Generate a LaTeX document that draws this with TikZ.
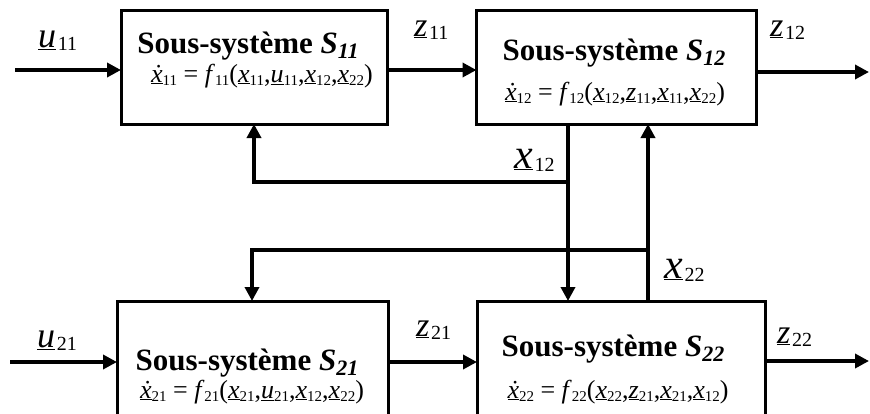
\documentclass[tikz,border=0pt]{standalone}
\usepackage{fontspec}
\setmainfont{Liberation Serif}
\usetikzlibrary{arrows.meta}
\newcommand\ulv[1]{\underline{\textit{#1}}}
\newcommand\esub[1]{\raisebox{-3pt}{\fontsize{15}{15}\selectfont #1}}
\newcommand\eqv[2]{\ulv{#1}\esub{#2}}
\newcommand\dxv[1]{\underline{\textit{\.x}}\esub{#1}}
\newcommand\labv[3]{{\fontsize{#3}{#3}\selectfont\ulv{#1}}\,\raisebox{-3pt}{\fontsize{20}{20}\selectfont #2}}
\newcommand\ttl[1]{{\fontsize{31}{33}\selectfont\bfseries Sous-système \textit{S}\raisebox{-5pt}{\fontsize{22}{22}\selectfont\textit{#1}}}}
\newcommand\eqn[6]{{\fontsize{26}{28}\selectfont \dxv{#1} = \textit{f}\esub{#1}(\eqv{x}{#1},\eqv{#2}{#3},\eqv{x}{#4},\eqv{x}{#5}#6)}}
\tikzset{
  box/.style={draw, line width=3pt, rectangle, inner sep=0pt, outer sep=0pt},
  arr/.style={line width=4pt, -{Triangle[length=14pt,width=14pt]}},
  txt/.style={anchor=base, inner sep=0pt},
  lab/.style={anchor=base west, inner sep=0pt}
}
\begin{document}
\begin{tikzpicture}[x=1pt,y=-1pt]
\useasboundingbox (0,0) rectangle (870,413);
\clip (0,0) rectangle (870,413);
% boxes
\node[box, minimum width=266pt, minimum height=114pt] (s11) at (254,67) {};
\node[box, minimum width=280pt, minimum height=114pt] (s12) at (616.5,67) {};
\node[box, minimum width=271pt, minimum height=129pt] (s21) at (252.5,365.5) {};
\node[box, minimum width=288pt, minimum height=129pt] (s22) at (621,365.5) {};
% titles
\node[txt] (t11) at (248,53) {\ttl{11}};
\node[txt] (t12) at (614,60) {\ttl{12}};
\node[txt] (t21) at (247,370) {\ttl{21}};
\node[txt] (t22) at (613,356) {\ttl{22}};
% equations
\node[txt] (e11) at (262,82) {\eqn{11}{u}{11}{12}{22}{}};
\node[txt] (e12) at (615,100) {{\fontsize{26}{28}\selectfont \dxv{12} = \textit{f}\esub{12}(\eqv{x}{12},\eqv{z}{11},\eqv{x}{11},\eqv{x}{22})}};
\node[txt] (e21) at (252,398) {\eqn{21}{u}{21}{12}{22}{}};
\node[txt] (e22) at (618,398) {{\fontsize{26}{28}\selectfont \dxv{22} = \textit{f}\esub{22}(\eqv{x}{22},\eqv{z}{21},\eqv{x}{21},\eqv{x}{12})}};
% coordinates
\coordinate (u11in) at (15,70);
\coordinate (z12out) at (869,72);
\coordinate (u21in) at (10,362);
\coordinate (z22out) at (869,361);
\coordinate (x12a) at (568,182);
\coordinate (x12b) at (254,182);
\coordinate (x22a) at (648,250);
\coordinate (x22b) at (252,250);
% connectors
\draw[arr] (u11in) -- (u11in -| s11.west);
\draw[arr] (s11.east |- u11in) -- (s12.west |- u11in);
\draw[arr] (s12.east |- z12out) -- (z12out);
\draw[arr] (u21in) -- (u21in -| s21.west);
\draw[arr] (s21.east |- u21in) -- (s22.west |- u21in);
\draw[arr] (s22.east |- z22out) -- (z22out);
\draw[arr] (s12.south -| x12a) -- (s22.north -| x12a);
\draw[arr] (x12a) -- (x12b) -- (x12b |- s11.south);
\draw[arr] (s22.north -| x22a) -- (s12.south -| x22a);
\draw[arr] (x22a) -- (x22b) -- (x22b |- s21.north);
% labels
\node[lab] (lu11) at (38,47) {\labv{u}{11}{36}};
\node[lab] (lz11) at (414,36) {\labv{z}{11}{34}};
\node[lab] (lz12) at (770,36) {\labv{z}{12}{34}};
\node[lab] (lx12) at (514,168) {\labv{x}{12}{42}};
\node[lab] (lx22) at (664,278) {\labv{x}{22}{42}};
\node[lab] (lu21) at (37,347) {\labv{u}{21}{36}};
\node[lab] (lz21) at (416,336) {\labv{z}{21}{34}};
\node[lab] (lz22) at (777,343) {\labv{z}{22}{34}};
\end{tikzpicture}
\end{document}
